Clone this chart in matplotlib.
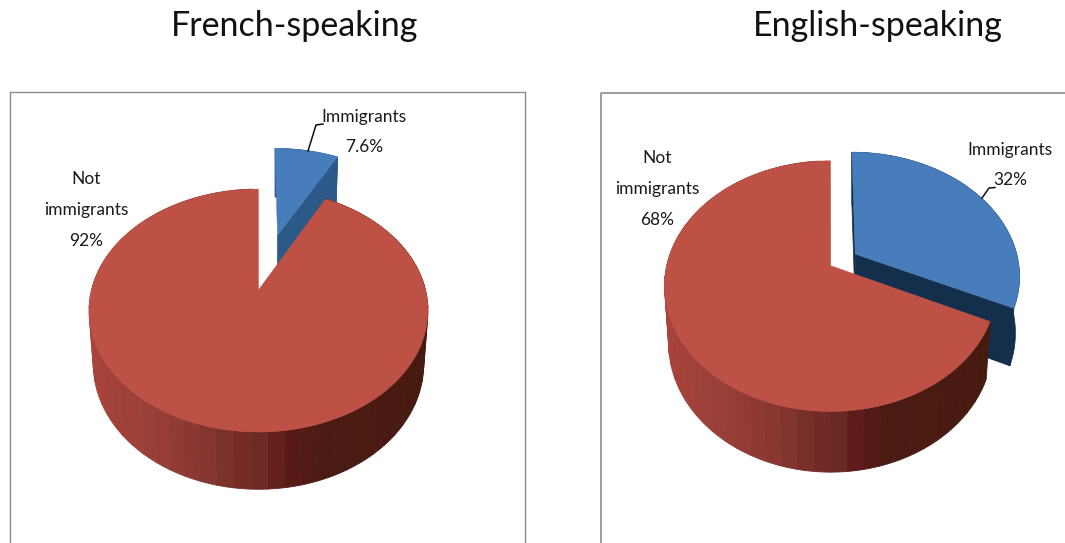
import numpy as np
import matplotlib.pyplot as plt
from matplotlib.colors import LinearSegmentedColormap

titles = ['French-speaking', 'English-speaking']
immigrants = [7.6, 32]
not_immigrants = [92, 68]
immigrant_labels = ['7.6%', '32%']
not_immigrant_labels = ['92%', '68%']

red_top = '#be5145'
blue_top = '#477dba'
frame_col = '#8c8c8c'
# shading of the red rim, from its left edge to its right edge
rim = LinearSegmentedColormap.from_list('rim', [
    (0.0, '#a8433b'), (0.2, '#963e37'), (0.35, '#85352f'), (0.45, '#742c27'),
    (0.52, '#6a2a24'), (0.58, '#5c1a18'), (0.68, '#4a1b12'), (1.0, '#471a10')])

plt.rcParams['font.family'] = ['Lato', 'DejaVu Sans']

fig = plt.figure(figsize=(10.65, 5.43), dpi=100, facecolor='white')
ax = fig.add_axes([0, 0, 1, 1])
ax.set_xlim(0, 1065)
ax.set_ylim(543, 0)
ax.axis('off')


def project(x, y, p):
    # tilted disc with perspective, y points to the back of the pie
    w = 1 + p['k'] * y
    return p['cx'] + p['A'] * x / w, p['cy'] - p['B'] * y / w


def lower(sx, sy, p, x0=None):
    # same outline on the underside of the pie
    if x0 is None:
        x0 = p['cx']
    return x0 + 0.975 * (sx - x0), p['cyb'] + 1.03 * (sy - p['cy'])


def arc(a0, a1, dx=0, dy=0):
    # clock angles in degrees, 0 is straight up
    t = np.radians(np.arange(a0, a1 + 0.2, 0.25))
    return np.sin(t) + dx, np.cos(t) + dy


def draw_pie(blue_share, red_share, explode, dark, p, back_face=False):
    split = 360 * blue_share / (blue_share + red_share)

    # pulled out slice first, the red one sits in front of it
    mid = np.radians(split / 2)
    dx, dy = explode * np.sin(mid), explode * np.cos(mid)
    ax_, ay_ = project(dx, dy, p)
    x, y = arc(0, split, dx, dy)
    sx, sy = project(x, y, p)
    bx, by = lower(sx, sy, p, ax_)
    abx, aby = lower(ax_, ay_, p, ax_)
    ax.fill(np.r_[sx, bx[::-1]], np.r_[sy, by[::-1]], color=dark, lw=0.5)
    ax.fill([ax_, sx[-1], bx[-1], abx], [ay_, sy[-1], by[-1], aby], color=dark, lw=0.5)
    if back_face:
        ax.fill([ax_, sx[0], bx[0], abx], [ay_, sy[0], by[0], aby], color=dark, lw=0.5)
    ax.fill(np.r_[ax_, sx], np.r_[ay_, sy], color=blue_top, lw=0.3)

    # red rim, cut in flat bands like the 3D renderer does
    steps = np.arange(split, 360.01, 5.0)
    for a0, a1 in zip(steps[:-1], steps[1:]):
        x, y = arc(a0, a1)
        sx, sy = project(x, y, p)
        bx, by = lower(sx, sy, p)
        frac = (sx.mean() - (p['cx'] - p['a'])) / (2 * p['a'])
        ax.fill(np.r_[sx, bx[::-1]], np.r_[sy, by[::-1]], color=rim(frac), lw=0.6)

    x, y = arc(split, 360)
    sx, sy = project(x, y, p)
    ax.fill(np.r_[p['cx'], sx], np.r_[p['cy'], sy], color=red_top, lw=0.3)


def put_label(x, y, s):
    ax.text(x, y, s, fontsize=12.5, color='#1a1a1a', ha='center', va='center')


left = dict(cx=258.5, cy=290, cyb=343, k=0.169, A=167, B=118, a=170)
right = dict(cx=830.7, cy=265.7, cyb=322, k=0.163, A=164, B=122, a=167)

draw_pie(immigrants[0], not_immigrants[0], 0.52, '#2c5a88', left)
draw_pie(immigrants[1], not_immigrants[1], 0.18, '#132f4b', right, back_face=True)

# chart frames, both run off the bottom of the image
ax.plot([9.5, 9.5, 525, 525], [543, 92, 92, 543], color=frame_col, lw=1)
ax.plot([600.5, 600.5, 1065], [543, 92.5, 92.5], color=frame_col, lw=1.2)

ax.text(294.5, 26, titles[0], fontsize=24.5, color='#111111', ha='center', va='center')
ax.text(878, 26, titles[1], fontsize=24.5, color='#111111', ha='center', va='center')

put_label(86, 179, 'Not')
put_label(86, 210, 'immigrants')
put_label(86, 241, not_immigrant_labels[0])
put_label(364, 117, 'Immigrants')
put_label(364, 147, immigrant_labels[0])
put_label(657, 158, 'Not')
put_label(657, 189, 'immigrants')
put_label(657, 220, not_immigrant_labels[1])
put_label(1010, 150, 'Immigrants')
put_label(1010, 180, immigrant_labels[1])

# leader lines
ax.plot([308, 316, 323], [151, 125, 124], color='#111111', lw=1.1)
ax.plot([982, 989, 995], [198, 188, 187.5], color='#111111', lw=1.1)

plt.savefig('out.png', dpi=100)
